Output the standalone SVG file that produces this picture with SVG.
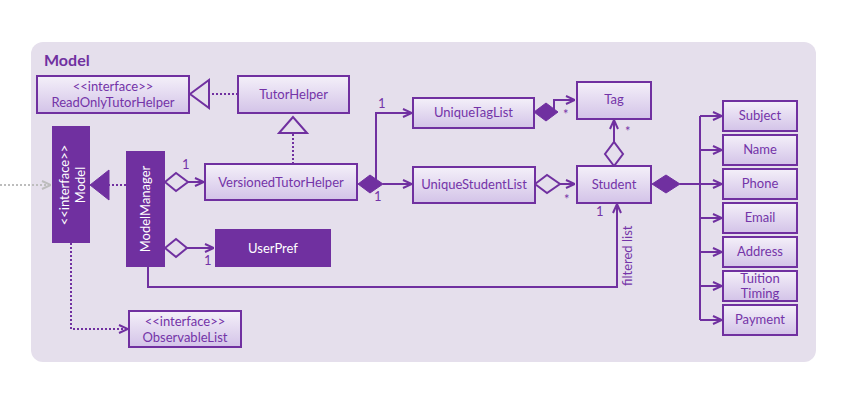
<svg xmlns="http://www.w3.org/2000/svg" width="856" height="404" viewBox="0 0 856 404">
<defs>
<linearGradient id="bg" x1="0" y1="0" x2="0" y2="1">
<stop offset="0" stop-color="#F4F0F9"/>
<stop offset="1" stop-color="#D3C3E8"/>
</linearGradient>
<marker id="arr" markerUnits="userSpaceOnUse" viewBox="0 0 10 10" refX="10" refY="5" markerWidth="10" markerHeight="10" orient="auto">
<path d="M1,1 L10,5 L1,9" fill="none" stroke="#7030A0" stroke-width="2"/>
</marker>
<marker id="arrg" markerUnits="userSpaceOnUse" viewBox="0 0 10 10" refX="10" refY="5" markerWidth="10" markerHeight="10" orient="auto">
<path d="M1,1 L10,5 L1,9" fill="none" stroke="#BDBDBD" stroke-width="2"/>
</marker>
</defs>
<style>
.box{fill:url(#bg);stroke:#7030A0;stroke-width:2}
.fbox{fill:#7030A0;stroke:none}
.t{font-family:Lato,"Liberation Sans",sans-serif;font-size:13px;fill:#7434A8;text-anchor:middle}
.w{font-family:Lato,"Liberation Sans",sans-serif;font-size:13px;fill:#FFFFFF;text-anchor:middle}
.m{font-family:Lato,"Liberation Sans",sans-serif;font-size:13px;fill:#7434A8}
.ln{fill:none;stroke:#7030A0;stroke-width:2}
.dot{fill:none;stroke:#7030A0;stroke-width:2;stroke-dasharray:2 2}
.hd{fill:#E5DFEC;stroke:#7030A0;stroke-width:2}
.fd{fill:#7030A0;stroke:#7030A0;stroke-width:1}
</style>
<rect x="0" y="0" width="856" height="404" fill="#FFFFFF"/>
<g id="container">
<rect x="31" y="42" width="785" height="320" rx="12" fill="#E5DFEC"/>
<text x="44" y="66" font-family="Lato,'Liberation Sans',sans-serif" font-size="16" font-weight="bold" fill="#7030A0">Model</text>
</g>
<g id="connectors">
<path class="dot" d="M238,94 H209"/>
<polygon class="hd" points="190,94 209,80 209,108"/>
<path class="dot" d="M293,164 V133"/>
<polygon class="hd" points="293,117 279,133 307,133"/>
<path class="dot" d="M126,185 H109"/>
<polygon class="fd" points="90,185 109,170 109,200"/>
<path d="M0,185 H51" fill="none" stroke="#BDBDBD" stroke-width="2" stroke-dasharray="2 2" marker-end="url(#arrg)"/>
<path class="ln" d="M188,182 H204" marker-end="url(#arr)"/>
<polygon class="hd" points="165,182 176,173 188,182 176,191"/>
<path class="ln" d="M187,248 H214" marker-end="url(#arr)"/>
<polygon class="hd" points="165,248 176,239 187,248 176,257"/>
<path class="ln" d="M148,267 V287 H617 V204" marker-end="url(#arr)"/>
<path class="dot" d="M71,243 V329 H128" marker-end="url(#arr)"/>
<path class="ln" d="M383,184 H412" marker-end="url(#arr)"/>
<path class="ln" d="M376,184 V113 H412" marker-end="url(#arr)"/>
<polygon class="fd" points="358,184 370,175 383,184 370,193"/>
<path class="ln" d="M554,112 V100 H575" marker-end="url(#arr)"/>
<polygon class="fd" points="534,112 546,103 558,112 546,121"/>
<path class="ln" d="M614,142 V120" marker-end="url(#arr)"/>
<polygon class="hd" points="614,166 605,154 614,142 623,154"/>
<path class="ln" d="M560,184 H575" marker-end="url(#arr)"/>
<polygon class="hd" points="535,184 547,175 560,184 547,193"/>
<path class="ln" d="M680,184 H700 M700,116 V320"/>
<path class="ln" d="M700,116 H722" marker-end="url(#arr)"/>
<path class="ln" d="M700,150 H722" marker-end="url(#arr)"/>
<path class="ln" d="M700,184 H722" marker-end="url(#arr)"/>
<path class="ln" d="M700,218 H722" marker-end="url(#arr)"/>
<path class="ln" d="M700,252 H722" marker-end="url(#arr)"/>
<path class="ln" d="M700,286 H722" marker-end="url(#arr)"/>
<path class="ln" d="M700,320 H722" marker-end="url(#arr)"/>
<polygon class="fd" points="652,184 666,175 680,184 666,193"/>
<text class="m" x="182" y="169">1</text>
<text class="m" x="204" y="265">1</text>
<text class="m" x="378" y="108">1</text>
<text class="m" x="374" y="201">1</text>
<text class="m" x="563" y="119">*</text>
<text class="m" x="625" y="136">*</text>
<text class="m" x="564" y="204">*</text>
<text class="m" x="596" y="216">1</text>
<text class="m" transform="translate(632,286) rotate(-90)">filtered list</text>
</g>
<g id="ReadOnlyTutorHelper">
<rect class="box" x="37" y="76" width="152" height="37"/>
<text class="t" x="113" y="91">&lt;&lt;interface&gt;&gt;</text>
<text class="t" x="113" y="107">ReadOnlyTutorHelper</text>
</g>
<g id="TutorHelper">
<rect class="box" x="238" y="76" width="111" height="37"/>
<text class="t" x="293.5" y="99">TutorHelper</text>
</g>
<g id="Model">
<rect class="fbox" x="52" y="126" width="38" height="117"/>
<text class="w" transform="translate(69,185) rotate(-90)">&lt;&lt;interface&gt;&gt;</text>
<text class="w" transform="translate(85,185) rotate(-90)">Model</text>
</g>
<g id="ModelManager">
<rect class="fbox" x="126" y="151" width="39" height="116"/>
<text class="w" transform="translate(150,209) rotate(-90)">ModelManager</text>
</g>
<g id="VersionedTutorHelper">
<rect class="box" x="205" y="164" width="152" height="36"/>
<text class="t" x="281" y="187">VersionedTutorHelper</text>
</g>
<g id="UserPref">
<rect class="fbox" x="215" y="229" width="116" height="38"/>
<text class="w" x="273" y="253">UserPref</text>
</g>
<g id="ObservableList">
<rect class="box" x="129" y="311" width="112" height="36"/>
<text class="t" x="185" y="326">&lt;&lt;interface&gt;&gt;</text>
<text class="t" x="185" y="342">ObservableList</text>
</g>
<g id="UniqueTagList">
<rect class="box" x="413" y="98" width="121" height="30"/>
<text class="t" x="473.5" y="117">UniqueTagList</text>
</g>
<g id="Tag">
<rect class="box" x="577" y="82" width="74" height="37"/>
<text class="t" x="614" y="104">Tag</text>
</g>
<g id="UniqueStudentList">
<rect class="box" x="413" y="167" width="122" height="36"/>
<text class="t" x="474" y="189">UniqueStudentList</text>
</g>
<g id="Student">
<rect class="box" x="577" y="166" width="74" height="37"/>
<text class="t" x="614" y="189">Student</text>
</g>
<g id="Subject">
<rect class="box" x="723" y="101" width="74" height="30"/>
<text class="t" x="760" y="120">Subject</text>
</g>
<g id="Name">
<rect class="box" x="723" y="135" width="74" height="30"/>
<text class="t" x="760" y="154">Name</text>
</g>
<g id="Phone">
<rect class="box" x="723" y="169" width="74" height="30"/>
<text class="t" x="760" y="188">Phone</text>
</g>
<g id="Email">
<rect class="box" x="723" y="203" width="74" height="30"/>
<text class="t" x="760" y="222">Email</text>
</g>
<g id="Address">
<rect class="box" x="723" y="237" width="74" height="30"/>
<text class="t" x="760" y="256">Address</text>
</g>
<g id="TuitionTiming">
<rect class="box" x="723" y="271" width="74" height="30"/>
<text class="t" x="760" y="283">Tuition</text>
<text class="t" x="760" y="298">Timing</text>
</g>
<g id="Payment">
<rect class="box" x="723" y="305" width="74" height="30"/>
<text class="t" x="760" y="324">Payment</text>
</g>
</svg>
